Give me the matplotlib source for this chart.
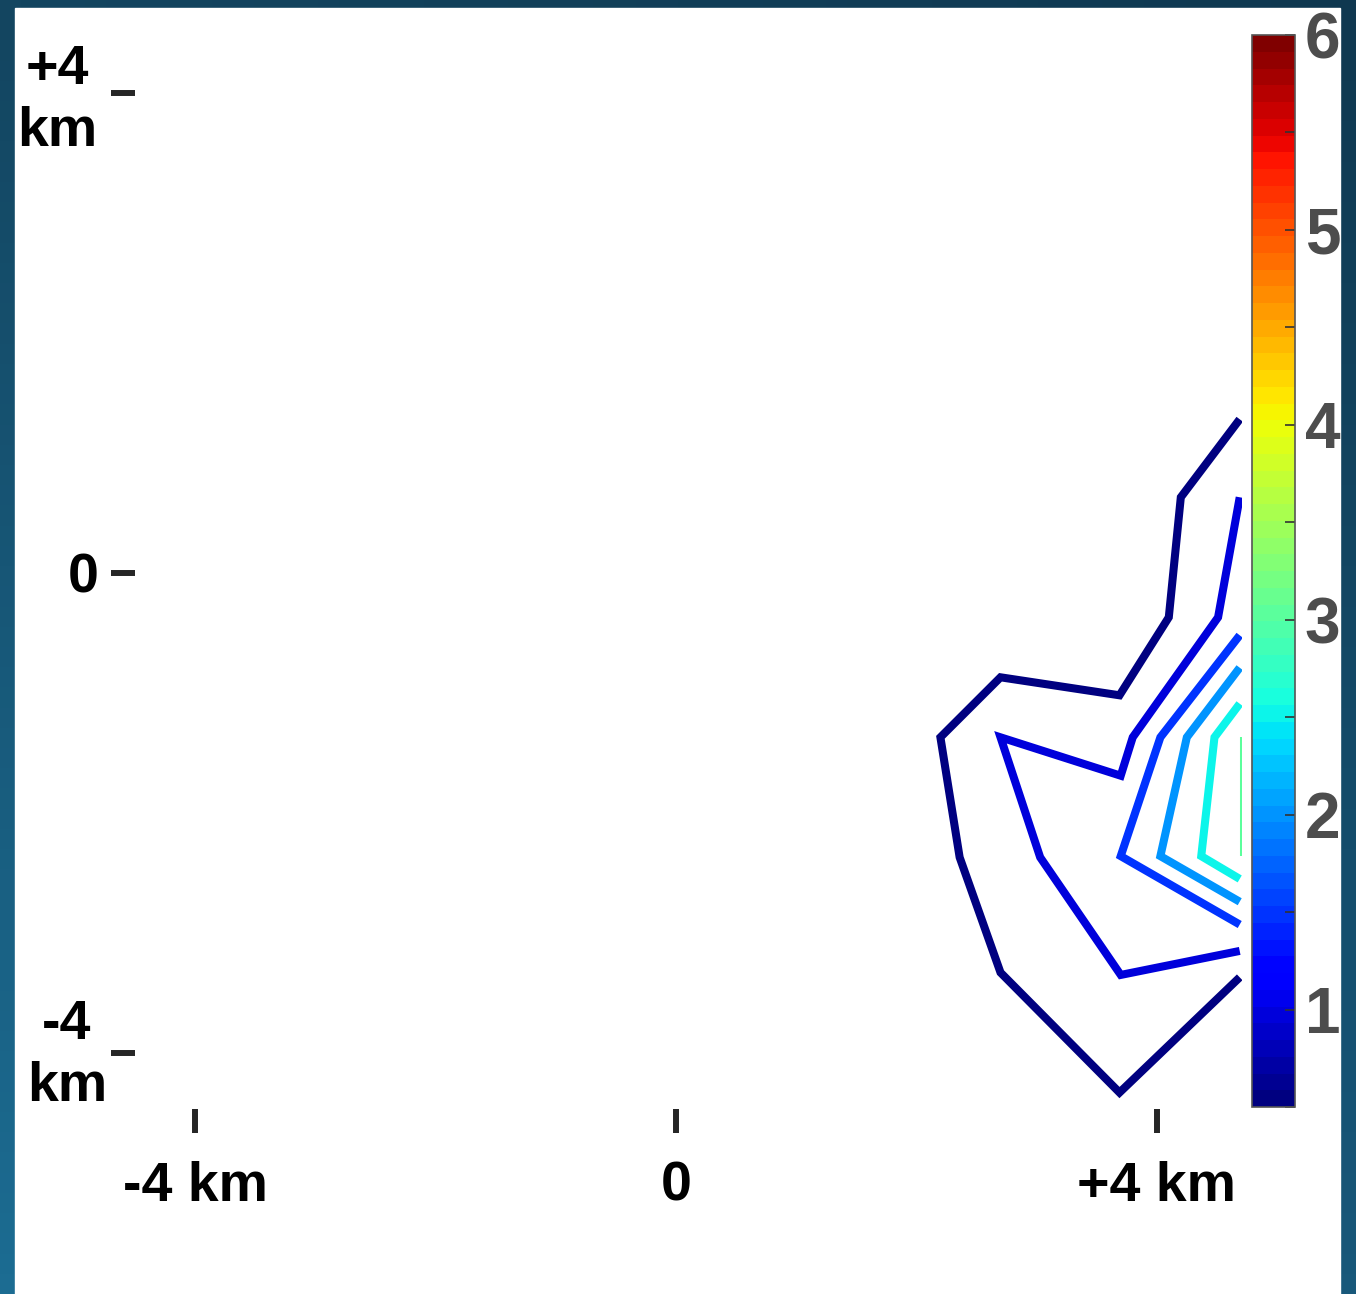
import numpy as np
import matplotlib
matplotlib.use("Agg")
import matplotlib.pyplot as plt
from matplotlib.colors import Normalize
from matplotlib.cm import ScalarMappable
from matplotlib.patches import Rectangle
from matplotlib.ticker import MultipleLocator
from matplotlib.transforms import ScaledTranslation

#--------------------------------------------
# data: contour lines (km) per level
levels = [0.5, 1.0, 1.5, 2.0, 2.5, 3.0]

c05_x = [4.69, 4.20, 4.10, 3.69, 2.70, 2.20, 2.36, 2.70, 3.69, 4.69]
c05_y = [1.28, 0.63, -0.37, -1.02, -0.87, -1.37, -2.37, -3.33, -4.33, -3.37]

c10_x = [4.69, 4.51, 3.80, 3.70, 2.70, 3.03, 3.70, 4.69]
c10_y = [0.63, -0.37, -1.37, -1.69, -1.37, -2.37, -3.35, -3.15]

c15_x = [4.69, 4.03, 3.70, 4.69]
c15_y = [-0.52, -1.37, -2.36, -2.93]

c20_x = [4.69, 4.25, 4.03, 4.69]
c20_y = [-0.79, -1.37, -2.36, -2.74]

c25_x = [4.69, 4.48, 4.37, 4.69]
c25_y = [-1.09, -1.37, -2.36, -2.55]

c30_x = [4.725, 4.725]
c30_y = [-1.37, -2.36]

contours_x = [c05_x, c10_x, c15_x, c20_x, c25_x, c30_x]
contours_y = [c05_y, c10_y, c15_y, c20_y, c25_y, c30_y]

x_ticks = [-4, 0, 4]
x_labels = ["-4 km", "0", "+4 km"]
y_ticks = [-4, 0, 4]
y_labels = ["-4\nkm", "0", "+4\nkm"]
cbar_ticks = [1, 2, 3, 4, 5, 6]

#--------------------------------------------
plt.rcParams['font.family'] = ['Liberation Sans', 'DejaVu Sans']
W, H = 1356, 1294
fig = plt.figure(figsize=(W / 100, H / 100), dpi=100)

# background gradient + white panel
bg = fig.add_axes([0, 0, 1, 1])
tl = np.array([0x13, 0x45, 0x60]) / 255
tr = np.array([0x0f, 0x38, 0x50]) / 255
bl = np.array([0x1c, 0x6c, 0x92]) / 255
br = np.array([0x18, 0x58, 0x7a]) / 255
u = np.linspace(0, 1, 64)[None, :, None]
v = np.linspace(0, 1, 64)[:, None, None]
grad = (1 - v) * ((1 - u) * tl + u * tr) + v * ((1 - u) * bl + u * br)
bg.imshow(grad, extent=[0, 1, 0, 1], aspect="auto", origin="upper")
bg.add_patch(Rectangle((15 / W, 0), (1340 - 15) / W, (1294 - 8) / H,
                       transform=bg.transAxes, color="white"))
bg.set_xlim(0, 1)
bg.set_ylim(0, 1)
bg.axis("off")

# main axes
ax = fig.add_axes([111 / W, 1 - 1133 / H, (1242 - 111) / W, (1133 - 10) / H])
ax.patch.set_alpha(0)
cmap = plt.get_cmap("jet", 64)
norm = Normalize(vmin=0.5, vmax=6)
for lev, xs, ys in zip(levels, contours_x, contours_y):
    ax.plot(xs, ys, color=cmap(norm(lev)), lw=5.8,
            solid_joinstyle="miter", solid_capstyle="butt")
ax.set_xlim(-4.70, 4.709)
ax.set_ylim(-4.667, 4.69)
for s in ax.spines.values():
    s.set_visible(False)
ax.set_xticks(x_ticks)
ax.set_xticklabels(x_labels)
ax.set_yticks(y_ticks)
ax.set_yticklabels(y_labels, multialignment="center", linespacing=1.25)
ax.tick_params(direction="in", length=17, width=4.3, color="#262626",
               labelsize=40, labelcolor="black")
ax.tick_params(axis="x", pad=20)
ax.tick_params(axis="y", pad=10)
for lab in ax.get_xticklabels() + ax.get_yticklabels():
    lab.set_fontweight("bold")
# small nudges of the y labels (px), as in the original
nudges = [(10, 8), (2, 0), (0, 3)]
for lab, (dx, dy) in zip(ax.get_yticklabels(), nudges):
    lab.set_transform(lab.get_transform() +
                      ScaledTranslation(dx / 100, dy / 100, fig.dpi_scale_trans))

# colorbar
cax = fig.add_axes([1252 / W, 1 - 1107 / H, 43 / W, 1072 / H])
sm = ScalarMappable(norm=norm, cmap=cmap)
cb = fig.colorbar(sm, cax=cax, ticks=cbar_ticks)
cb.outline.set_edgecolor("#555555")
cb.outline.set_linewidth(1.2)
cax.yaxis.set_minor_locator(MultipleLocator(0.5))
cax.tick_params(which="both", direction="in", length=7, width=1.2,
                color="#333333", labelsize=46, labelcolor="#4d4d4d", pad=7)
for lab in cax.get_yticklabels():
    lab.set_fontweight("bold")

fig.savefig("out.png", dpi=100)
